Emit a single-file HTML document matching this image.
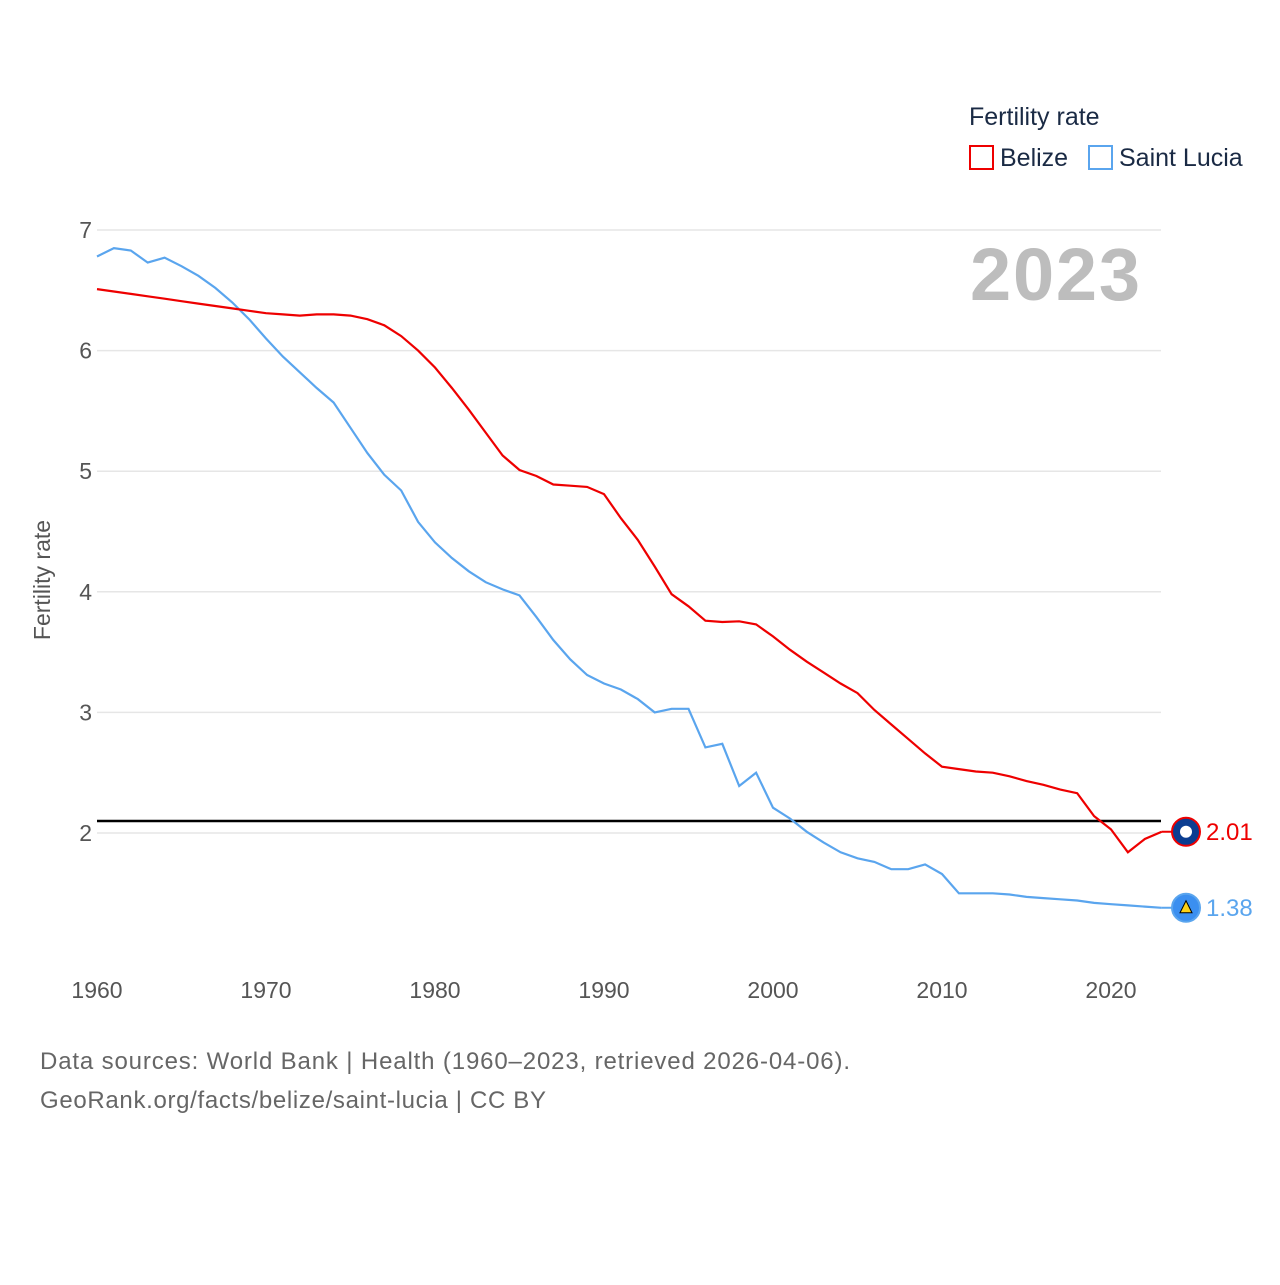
<!DOCTYPE html>
<html><head><meta charset="utf-8"><style>
body{margin:0;background:#fff;font-family:"Liberation Sans",sans-serif}
svg text{font-family:"Liberation Sans",sans-serif}
</style></head><body>
<svg width="1280" height="1280" viewBox="0 0 1280 1280">
<g id="grid"></g>
<g id="yticks"></g>
<g id="xticks"></g>
<text x="50" y="580" transform="rotate(-90 50 580)" text-anchor="middle" font-size="23" fill="#555">Fertility rate</text>
<text x="1140" y="300" text-anchor="end" font-size="74" font-weight="bold" fill="#bdbdbd" textLength="170">2023</text>
<g>
<text x="969" y="125" font-size="25" fill="#1a2a44">Fertility rate</text>
<g><rect x="970" y="146" width="23" height="23" fill="none" stroke="#e00" stroke-width="2"/><text x="1000" y="166" font-size="25" fill="#1a2a44">Belize</text></g>
<g><rect x="1089" y="146" width="23" height="23" fill="none" stroke="#5aa5ee" stroke-width="2"/><text x="1119" y="166" font-size="25" fill="#1a2a44">Saint Lucia</text></g>
</g>
<g id="series"></g>
<text x="40" y="1069" font-size="24" fill="#666" textLength="810">Data sources: World Bank | Health (1960–2023, retrieved 2026-04-06).</text>
<text x="40" y="1108" font-size="24" fill="#666" textLength="506">GeoRank.org/facts/belize/saint-lucia | CC BY</text>
</svg>
<script>
const years=[];for(let y=1960;y<=2023;y++)years.push(y);
const belize=[6.51,6.49,6.47,6.45,6.43,6.41,6.39,6.37,6.35,6.33,6.31,6.30,6.29,6.30,6.30,6.29,6.26,6.21,6.12,6.00,5.86,5.69,5.51,5.32,5.13,5.01,4.96,4.89,4.88,4.87,4.81,4.61,4.43,4.21,3.98,3.88,3.76,3.75,3.755,3.73,3.63,3.52,3.42,3.33,3.24,3.16,3.02,2.90,2.78,2.66,2.55,2.53,2.51,2.50,2.47,2.43,2.40,2.36,2.33,2.14,2.03,1.84,1.95,2.01];
const stlucia=[6.78,6.85,6.83,6.73,6.77,6.70,6.62,6.52,6.40,6.26,6.10,5.95,5.82,5.69,5.57,5.36,5.15,4.97,4.84,4.58,4.41,4.28,4.17,4.08,4.02,3.97,3.79,3.60,3.44,3.31,3.24,3.19,3.11,3.00,3.03,3.03,2.71,2.74,2.39,2.50,2.21,2.12,2.01,1.92,1.84,1.79,1.76,1.70,1.70,1.74,1.66,1.50,1.50,1.50,1.49,1.47,1.46,1.45,1.44,1.42,1.41,1.40,1.39,1.38];
const yTicks=[2,3,4,5,6,7];
const xTicks=[1960,1970,1980,1990,2000,2010,2020];
const refLine=[2.1];
const X=v=>97+(v-1960)*(1111-97)/60;
const Y=v=>833-(v-2)*(833-230)/5;
const NS="http://www.w3.org/2000/svg";
function mk(t,a,p){const e=document.createElementNS(NS,t);for(const k in a)e.setAttribute(k,a[k]);p.appendChild(e);return e;}
const grid=document.getElementById('grid'),yt=document.getElementById('yticks'),xt=document.getElementById('xticks'),ser=document.getElementById('series');
yTicks.forEach(v=>{
 const l=mk('line',{x1:97,x2:1161,y1:Y(v),y2:Y(v),stroke:'#e6e6e6','stroke-width':1.5},grid);
 
 
 const t=mk('text',{x:92,y:Y(v)+8,'text-anchor':'end','font-size':23,fill:'#555'},yt);t.textContent=v;
 
 
});
xTicks.forEach(v=>{
 const t=mk('text',{x:X(v),y:998,'text-anchor':'middle','font-size':23,fill:'#555'},xt);t.textContent=v;
 
 
});
const rl=mk('line',{x1:97,x2:1161,y1:Y(refLine[0]),y2:Y(refLine[0]),stroke:'#000','stroke-width':2.5},ser);


function line(d,c,name){
 const p=mk('path',{d:d.map((v,i)=>(i?'L':'M')+X(years[i]).toFixed(1)+','+Y(v).toFixed(1)).join(''),fill:'none',stroke:c,'stroke-width':2.2},ser);
 
 
}
line(stlucia,'#5aa5ee','line-saint-lucia');
line(belize,'#e00','line-belize');
function endMark(d,c,fill,txt,name){
 const v=d[d.length-1],y=Y(v),x=X(2023);
 mk('line',{x1:x,x2:1186,y1:y,y2:y,stroke:c,'stroke-width':2},ser);
 const ci=mk('circle',{cx:1186,cy:y,r:14,fill:fill,stroke:c,'stroke-width':2},ser);
 
 
 const t=mk('text',{x:1206,y:y+8,'font-size':24,fill:c},ser);t.textContent=txt;
 
 
}
endMark(belize,'#e00','#0b3d91',belize[belize.length-1].toFixed(2),'belize');
endMark(stlucia,'#5aa5ee','#3b8ff0',stlucia[stlucia.length-1].toFixed(2),'saint-lucia');
mk('circle',{cx:1186,cy:Y(belize[belize.length-1]),r:6,fill:'#fff'},ser);
mk('polygon',{points:`1186,${Y(stlucia[63])-7} 1192,${Y(stlucia[63])+5} 1180,${Y(stlucia[63])+5}`,fill:'#fcd116',stroke:'#000','stroke-width':1},ser);
</script>
</body></html>
